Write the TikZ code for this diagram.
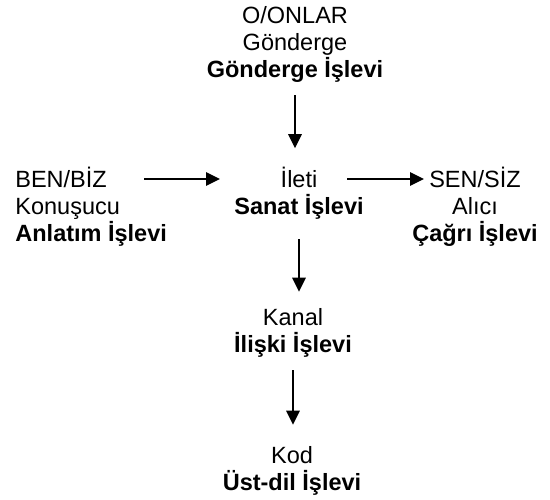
\documentclass[tikz,border=0pt]{standalone}
\usepackage{fontspec}
\setmainfont{Liberation Sans}
\usepackage{tikz}
\usetikzlibrary{arrows.meta,positioning}

\tikzset{
    txt/.style={inner sep=0pt, font=\fontsize{11.75}{13.5}\selectfont},
    arr/.style={->, line width=0.7pt}
}

\begin{document}
\begin{tikzpicture}[>={Triangle[length=7pt,width=6.8pt]},x=0.5pt,y=-0.5pt]
    \useasboundingbox (0,0) rectangle (550,499);

    \node[txt, anchor=base, align=center] (gon) at (295,77) {O/ONLAR\\Gönderge\\\textbf{Gönderge İşlevi}};
    \node[txt, anchor=base west, align=left] (ben) at (15,241) {BEN/BİZ\\Konuşucu\\\textbf{Anlatım İşlevi}};
    \node[txt, anchor=base, align=center] (ileti) at (299,214) {İleti\\\textbf{Sanat İşlevi}};
    \node[txt, anchor=base, align=center] (sen) at (475,241) {SEN/SİZ\\Alıcı\\\textbf{Çağrı İşlevi}};
    \node[txt, anchor=base, align=center] (kanal) at (293,352) {Kanal\\\textbf{İlişki İşlevi}};
    \node[txt, anchor=base, align=center] (kod) at (292,490) {Kod\\\textbf{Üst-dil İşlevi}};

    \draw[arr, shorten <=6.5pt, shorten >=9pt] (gon.south) -- (gon.south |- ileti.north);
    \draw[arr] ([xshift=64.5pt,yshift=31pt]ben.base west) -- ([xshift=-39.5pt,yshift=17.5pt]ileti.base);
    \draw[arr] ([xshift=24pt,yshift=17.5pt]ileti.base) -- ([xshift=-25.5pt,yshift=31pt]sen.base);
    \draw[arr, shorten <=10pt, shorten >=8pt] (ileti.south) -- (ileti.south |- kanal.north);
    \draw[arr, shorten <=6.5pt, shorten >=10.5pt] (kanal.south) -- (kanal.south |- kod.north);
\end{tikzpicture}
\end{document}
